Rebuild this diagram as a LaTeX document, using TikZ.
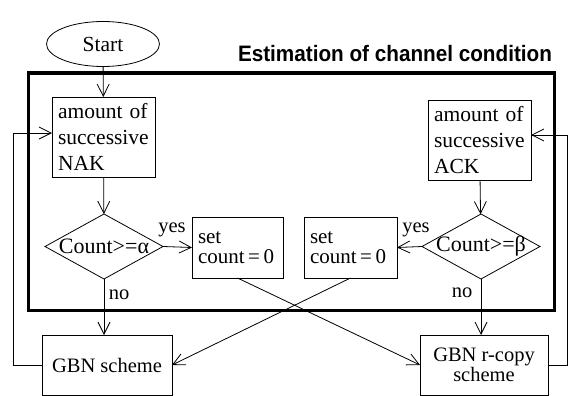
\documentclass[tikz,border=0pt]{standalone}
\usepackage{fontspec}
\setmainfont{Liberation Serif}
\newfontfamily\titlefont{Liberation Sans}
\usetikzlibrary{arrows.meta,shapes.geometric}
\begin{document}
\begin{tikzpicture}[x=1pt,y=-1pt,
  every node/.style={inner sep=0pt, outer sep=0pt},
  lw/.style={line width=0.8pt},
  txt/.style={font=\fontsize{21.5}{26}\selectfont},
  txtb/.style={font=\fontsize{21}{20}\selectfont},
  tbox/.style={draw, lw, align=left, text width=#1, inner xsep=6pt, inner ysep=0pt},
  cbox/.style={draw, lw, align=center, minimum width=#1, minimum height=60pt},
  decide/.style={draw, lw, diamond, minimum width=118pt, minimum height=65pt, font=\fontsize{22}{26}\selectfont},
  arr/.style={lw, -{Straight Barb[length=12pt,width=12pt,line width=0.8pt]}},
  framebox/.style={draw, line width=3pt}
]
\useasboundingbox (0,0) rectangle (570,396);

% frame
\node[framebox, minimum width=526pt, minimum height=237pt] (frame) at (291,191.5) {};
\node[anchor=base west, font=\titlefont\bfseries\fontsize{20.7}{24}\selectfont] (title) at (238,62) {\scalebox{1}[1.08]{Estimation of channel condition}};

% nodes
\node[draw, lw, ellipse, minimum width=113pt, minimum height=45pt, txt] (start) at (103,44) {Start};
\node[tbox=91pt, minimum height=80pt, txt] (nak) at (103.5,137) {amount of\\successive\\NAK};
\node[tbox=91pt, minimum height=80pt, txt] (ack) at (479.5,140) {amount of\\successive\\ACK};
\node[decide] (dA) at (104,246.5) {\makebox[0pt]{Count>=α}};
\node[decide] (dB) at (481,246.5) {\makebox[0pt]{Count>=β}};
\node[tbox=79pt, minimum height=61pt, txtb] (set1) at (237.5,247.5) {set\\\mbox{count\,=\,0}};
\node[tbox=81pt, minimum height=61pt, txtb] (set2) at (350.5,247.5) {set\\\mbox{count\,=\,0}};
\node[cbox=130pt, font=\fontsize{20.5}{20}\selectfont] (gbn) at (107,365) {GBN scheme};
\node[cbox=128pt, font=\fontsize{20.5}{20}\selectfont] (rcopy) at (484,365) {GBN r-copy\\scheme};

% labels
\node[anchor=base, font=\fontsize{20.5}{20}\selectfont] (yesA) at (172,232) {yes};
\node[anchor=base, font=\fontsize{20.5}{20}\selectfont] (yesB) at (416,232) {yes};
\node[anchor=base, font=\fontsize{20.5}{20}\selectfont] (noA) at (119,299) {no};
\node[anchor=base, font=\fontsize{20.5}{20}\selectfont] (noB) at (462,297) {no};

% connectors
\draw[arr] (start) -- (nak);
\draw[arr] (nak) -- (dA);
\draw[arr] (dA.east) -- (set1.west);
\draw[arr] (dA.south) -- (dA.south |- gbn.north);
\draw[arr] (ack) -- (dB);
\draw[arr] (dB.west) -- (set2.east);
\draw[arr] (dB.south) -- (dB.south |- rcopy.north);
\draw[arr] (set1.south) -- (rcopy.west);
\draw[arr] (set2.south) -- (gbn.east);

\coordinate (fbL) at (13,133);
\coordinate (fbR) at (567,135);
\draw[arr] (gbn.west) -| (fbL) -- (fbL -| nak.west);
\draw[arr] (rcopy.east) -| (fbR) -- (fbR -| ack.east);
\end{tikzpicture}
\end{document}
